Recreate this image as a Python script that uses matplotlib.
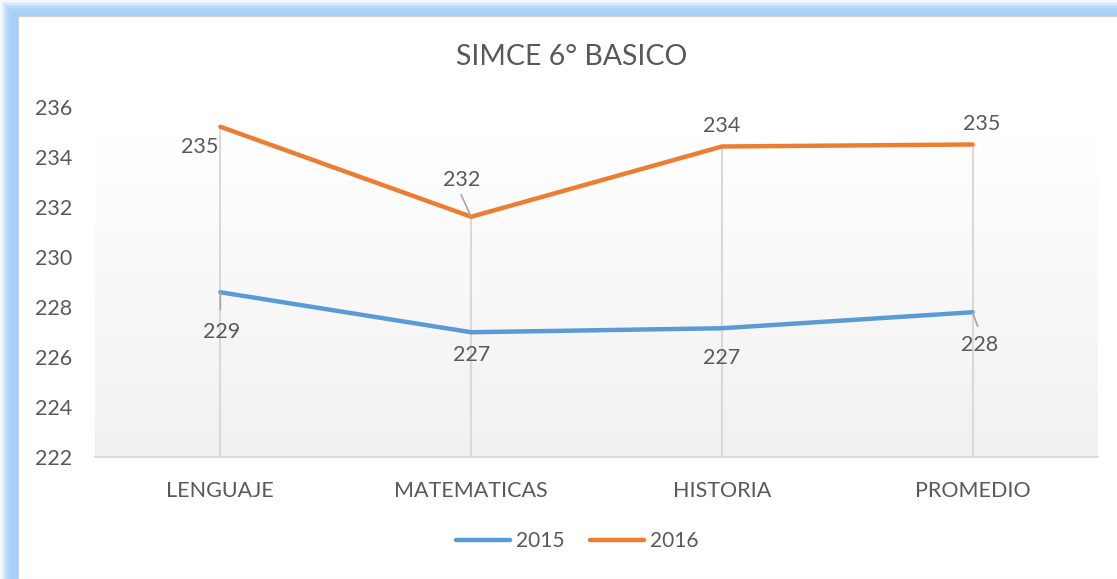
import numpy as np
import matplotlib.pyplot as plt
from matplotlib.patches import Rectangle

# data
categorias = ['LENGUAJE', 'MATEMATICAS', 'HISTORIA', 'PROMEDIO']
simce_2015 = [228.59, 226.99, 227.15, 227.79]
simce_2016 = [235.21, 231.61, 234.42, 234.50]
etiq_2015 = [229, 227, 227, 228]
etiq_2016 = [235, 232, 234, 235]
yticks = [222, 224, 226, 228, 230, 232, 234, 236]

azul = '#5b9bd5'
naranjo = '#ed7d31'
gris_txt = '#595959'
plt.rcParams['font.family'] = ['Lato', 'DejaVu Sans']

W, H = 1117, 579
fig = plt.figure(figsize=(W / 100, H / 100), dpi=100)

# blue glow border (left and top)
for i in range(10):
    fig.patches.append(Rectangle((i * 1.6 / W, 0), 1, 1 - i * 1.6 / H,
                                 transform=fig.transFigure, facecolor='#a6cff5',
                                 alpha=0.12 + 0.06 * i, edgecolor='none', zorder=-10))
fig.patches.append(Rectangle((18 / W, 0), 1, 1 - 16 / H, transform=fig.transFigure,
                             facecolor='white', edgecolor='#d0d0d0', lw=0.8, zorder=-9))

ax = fig.add_axes([95 / W, (H - 457) / H, 1003 / W, 350 / H])
ax.set_facecolor('none')
x = np.arange(len(categorias))

# gradient plot area
t = np.linspace(0, 1, 256)
g = np.where(t < 0.08, 1.0, 1.0 - 0.055 * (t - 0.08) / 0.92).reshape(-1, 1)
ax.imshow(np.dstack([g, g, g]), extent=[0, 1, 0, 1], transform=ax.transAxes,
          aspect='auto', zorder=0)

ax.set_xlim(-0.5, len(categorias) - 0.5)
ax.set_ylim(yticks[0], yticks[-1])

# drop lines
for xi, a, b in zip(x, simce_2015, simce_2016):
    ax.plot([xi, xi], [yticks[0], max(a, b)], color='#d9d9d9', lw=1.5, zorder=1)

ax.plot(x, simce_2015, color=azul, lw=3.2, solid_capstyle='round', label='2015', zorder=3)
ax.plot(x, simce_2016, color=naranjo, lw=3.2, solid_capstyle='round', label='2016', zorder=3)

# data labels (offsets in pixels)
off_2015 = [(1, -40), (0, -23), (0, -30), (7, -33)]
off_2016 = [(-21, -20), (-10, 37), (0, 20), (9, 21)]
lead_2015 = [(0, -17), None, None, (5, -14)]
lead_2016 = [None, (-10, 22), None, None]
for xi, v, lab, off, ld in zip(x, simce_2015, etiq_2015, off_2015, lead_2015):
    ax.annotate(str(lab), (xi, v), xytext=off, textcoords='offset pixels',
                ha='center', va='center', fontsize=15.5, color=gris_txt, zorder=4)
    if ld:
        ax.annotate('', (xi, v), xytext=ld, textcoords='offset pixels',
                    arrowprops=dict(arrowstyle='-', color='#a6a6a6', lw=1.2, shrinkA=0, shrinkB=0))
for xi, v, lab, off, ld in zip(x, simce_2016, etiq_2016, off_2016, lead_2016):
    ax.annotate(str(lab), (xi, v), xytext=off, textcoords='offset pixels',
                ha='center', va='center', fontsize=15.5, color=gris_txt, zorder=4)
    if ld:
        ax.annotate('', (xi, v), xytext=ld, textcoords='offset pixels',
                    arrowprops=dict(arrowstyle='-', color='#a6a6a6', lw=1.2, shrinkA=0, shrinkB=0))

ax.set_xticks(x)
ax.set_xticklabels(categorias, fontsize=15.5, color=gris_txt)
ax.set_yticks(yticks)
ax.set_yticklabels([str(v) for v in yticks], fontsize=15.5, color=gris_txt)
ax.tick_params(length=0)
ax.tick_params(axis='x', pad=17)
ax.tick_params(axis='y', pad=43)
for lb in ax.get_yticklabels():
    lb.set_horizontalalignment('left')
for s in ['top', 'right', 'left']:
    ax.spines[s].set_visible(False)
ax.spines['bottom'].set_color('#d9d9d9')
ax.spines['bottom'].set_linewidth(1.3)

fig.text(572 / W, 1 - 57 / H, 'SIMCE 6° BASICO', ha='center', va='center',
         fontsize=20.5, color=gris_txt)

fig.legend(loc='center', bbox_to_anchor=(577 / W, 1 - 541 / H), ncol=2, frameon=False,
           fontsize=15, handlelength=2.6, handletextpad=0.3, columnspacing=1.2,
           labelcolor=gris_txt)

fig.savefig('out.png', dpi=100)
